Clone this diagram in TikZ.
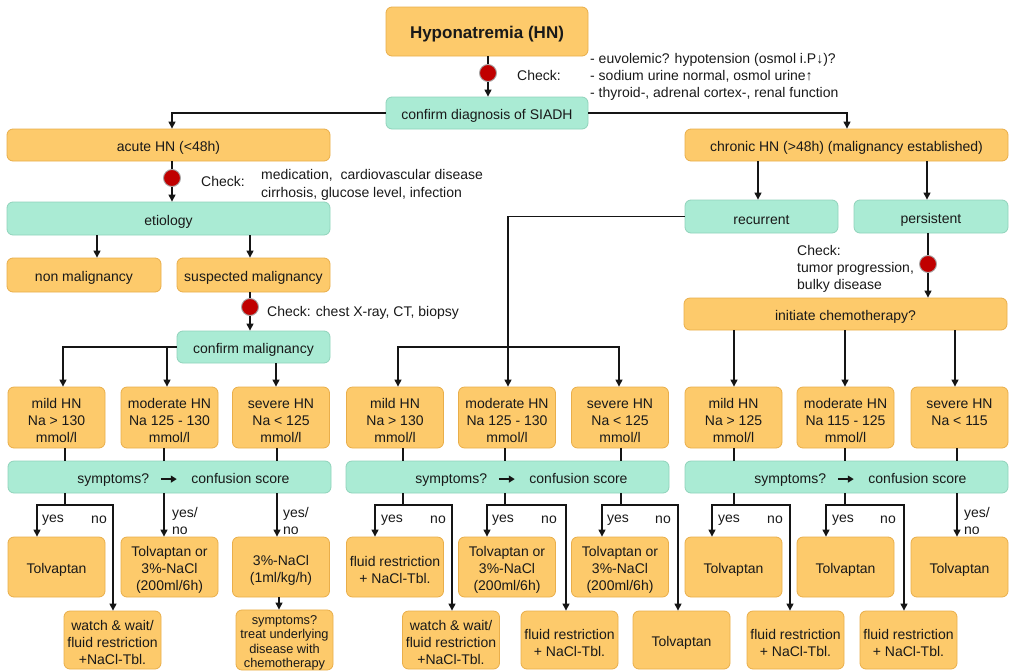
\documentclass[tikz,border=0pt]{standalone}
\usepackage{fontspec}
\setmainfont{Liberation Sans}
\usetikzlibrary{arrows.meta,calc}
\definecolor{ofill}{HTML}{FDCA6B}
\definecolor{oborder}{HTML}{E9AE4A}
\definecolor{gfill}{HTML}{AAEBD4}
\definecolor{gborder}{HTML}{90D3BB}
\definecolor{dotred}{HTML}{C00000}
\definecolor{linec}{HTML}{151515}
\newcommand\fsmain{\fontsize{14}{17}\selectfont}
\newcommand\fssmall{\fontsize{12.8}{14.3}\selectfont}
\newcommand\fstitle{\fontsize{17}{20}\selectfont\bfseries}
\newcommand\tp{\rule{0pt}{16pt}}
\newcommand\tps{\rule{0pt}{14.5pt}}
\newcommand\symarrow{\tikz[baseline=-0.6ex,x=1pt,y=1pt]\draw[-{Triangle[length=6pt,width=7pt]},line width=1.4pt,linec](0,0)--(16,0);}
\newcommand\symtext{\tp\hspace*{28pt}symptoms?\hspace{11pt}\symarrow\hspace{14pt}confusion score}
\tikzset{
  obox/.style={draw=oborder,fill=ofill,rounded corners=6pt,line width=0.8pt,inner sep=0pt,align=center,font=\fsmain,text=black!90},
  gbox/.style={draw=gborder,fill=gfill,rounded corners=6pt,line width=0.8pt,inner sep=0pt,align=center,font=\fsmain,text=black!90},
  lvl/.style={obox,minimum width=97pt,minimum height=61pt},
  trt/.style={obox,minimum width=97pt,minimum height=60pt},
  trb/.style={obox,minimum width=97pt,minimum height=58pt},
  bar/.style={gbox,minimum width=323pt,minimum height=32pt},
  arr/.style={-{Triangle[length=7pt,width=7pt]},line width=1.1pt,draw=linec},
  ln/.style={line width=1.1pt,draw=linec},
  reddot/.style={circle,fill=dotred,draw=gray!70,line width=0.9pt,minimum size=17pt,inner sep=0pt},
  lbl/.style={font=\fsmain,inner sep=0pt,text=black!90,align=left}
}
\begin{document}
\begin{tikzpicture}[x=1pt,y=-1pt]
\useasboundingbox (0,0) rectangle (1010,670);

% top
\node[obox,minimum width=202pt,minimum height=49pt,font=\fstitle] (title) at (487,31.5) {\rule{0pt}{17pt}Hyponatremia (HN)};
\node[gbox,minimum width=202pt,minimum height=32pt] (siadh) at (487,113) {\tp confirm diagnosis of SIADH};
\node[lbl,anchor=west] (chk1) at (517,75) {Check:};
\node[lbl,anchor=west] (chk1t) at (590,77) {- euvolemic? hypotension (osmol i.P↓)?\\- sodium urine normal, osmol urine↑\\- thyroid-, adrenal cortex-, renal function};

% left branch
\node[obox,minimum width=323pt,minimum height=32pt] (acute) at (168.5,145) {\tp acute HN (<48h)};
\node[gbox,minimum width=323pt,minimum height=33pt] (etiology) at (168.5,218.5) {\tp etiology};
\node[lbl,anchor=west] (chk2) at (201,181.5) {Check:};
\node[lbl,anchor=west,font=\fontsize{14}{18}\selectfont] (chk2t) at (261,185) {medication,\ \ cardiovascular disease\\cirrhosis, glucose level, infection};
\node[obox,minimum width=154pt,minimum height=34pt] (nonmal) at (84,275) {\tp non malignancy};
\node[obox,minimum width=153pt,minimum height=34pt] (susp) at (253.5,275) {\tp suspected malignancy};
\node[lbl,anchor=west] (chk3) at (267,313) {Check: chest X-ray, CT, biopsy};
\node[gbox,minimum width=153pt,minimum height=32pt] (confmal) at (253.5,347) {\tp confirm malignancy};

% right branch
\node[obox,minimum width=323pt,minimum height=32pt] (chronic) at (846.5,145) {\tp chronic HN (>48h) (malignancy established)};
\node[gbox,minimum width=153pt,minimum height=33pt] (recurrent) at (761.5,216.5) {\tp recurrent};
\node[gbox,minimum width=154pt,minimum height=33pt] (persistent) at (931,216.5) {\tp persistent};
\node[lbl,anchor=west] (chk4) at (797,269) {Check:\\tumor progression,\\bulky disease};
\node[obox,minimum width=323pt,minimum height=32pt] (chemo) at (845.5,314) {\tp initiate chemotherapy?};

% level boxes
\node[lvl] (Lmild) at (56.5,417.5) {\tp mild HN\\Na > 130\\mmol/l};
\node[lvl] (Lmod) at (169.5,417.5) {\tp moderate HN\\Na 125 - 130\\mmol/l};
\node[lvl] (Lsev) at (281,417.5) {\tp severe HN\\Na < 125\\mmol/l};
\node[lvl] (Mmild) at (395,417.5) {\tp mild HN\\Na > 130\\mmol/l};
\node[lvl] (Mmod) at (507,417.5) {\tp moderate HN\\Na 125 - 130\\mmol/l};
\node[lvl] (Msev) at (620,417.5) {\tp severe HN\\Na < 125\\mmol/l};
\node[lvl] (Rmild) at (733.5,417.5) {\tp mild HN\\Na > 125\\mmol/l};
\node[lvl] (Rmod) at (845.5,417.5) {\tp moderate HN\\Na 115 - 125\\mmol/l};
\node[lvl] (Rsev) at (959.5,417.5) {\tp severe HN\\Na < 115\\\mbox{}};

% symptom bars
\node[bar] (Lbar) at (169.5,477) {\symtext};
\node[bar] (Mbar) at (507.5,477) {\symtext};
\node[bar] (Rbar) at (846.5,477) {\symtext};

% treatments row 1
\node[trt] (Ltr1) at (56.5,567) {\tp Tolvaptan};
\node[trt] (Ltr2) at (169.5,567) {\tp Tolvaptan or\\3\%-NaCl\\(200ml/6h)};
\node[trt] (Ltr3) at (281,567) {\tp 3\%-NaCl\\(1ml/kg/h)};
\node[trt] (Mtr1) at (395,567) {\tp fluid restriction\\+ NaCl-Tbl.};
\node[trt] (Mtr2) at (507,567) {\tp Tolvaptan or\\3\%-NaCl\\(200ml/6h)};
\node[trt] (Mtr3) at (620,567) {\tp Tolvaptan or\\3\%-NaCl\\(200ml/6h)};
\node[trt] (Rtr1) at (733.5,567) {\tp Tolvaptan};
\node[trt] (Rtr2) at (845.5,567) {\tp Tolvaptan};
\node[trt] (Rtr3) at (959.5,567) {\tp Tolvaptan};

% treatments row 2
\node[trb] (Lw) at (112.5,640) {\tp watch \& wait/\\fluid restriction\\+NaCl-Tbl.};
\node[trb,font=\fssmall] (Lsym) at (284.5,640) {\tps symptoms?\\treat underlying\\disease with\\chemotherapy};
\node[trb] (Mw) at (451,640) {\tp watch \& wait/\\fluid restriction\\+NaCl-Tbl.};
\node[trb] (Mfl) at (569.5,640) {\tp fluid restriction\\+ NaCl-Tbl.};
\node[trb] (Mtv) at (681.5,640) {\tp Tolvaptan};
\node[trb] (Rfl1) at (795.5,640) {\tp fluid restriction\\+ NaCl-Tbl.};
\node[trb] (Rfl2) at (908.5,640) {\tp fluid restriction\\+ NaCl-Tbl.};

% ---- connectors top
\draw[arr] ([xshift=1]title.south) -- ([xshift=1]siadh.north);
\node[reddot] (d1) at (488,73) {};
\draw[arr] (siadh.west) -| ([xshift=3.5]acute.north);
\draw[arr] (siadh.east) -| ([xshift=0.5]chronic.north);
\draw[arr] ([xshift=3.5]acute.south) -- ([xshift=3.5]etiology.north);
\node[reddot] (d2) at (172,178) {};
\draw[arr] ([xshift=13]nonmal.north |- etiology.south) -- ([xshift=13]nonmal.north);
\draw[arr] ([xshift=-3.5]susp.north |- etiology.south) -- ([xshift=-3.5]susp.north);
\draw[arr] ([xshift=-3.5]susp.south) -- ([xshift=-3.5]confmal.north);
\node[reddot] (d3) at (250,307) {};
\draw[arr] (confmal.west) -| ([xshift=6.5]Lmild.north);
\draw[arr] ([xshift=-2.5]Lmod.north |- confmal.west) -- ([xshift=-2.5]Lmod.north);
\draw[arr] ([xshift=-5]Lsev.north |- confmal.south) -- ([xshift=-5]Lsev.north);

\draw[arr] ([xshift=-3.5]recurrent.north |- chronic.south) -- ([xshift=-3.5]recurrent.north);
\draw[arr] ([xshift=-4]persistent.north |- chronic.south) -- ([xshift=-4]persistent.north);
\draw[arr] (recurrent.west) -| ([xshift=1]Mmod.north);
\coordinate (jrec) at (508,347);
\draw[arr] (jrec) -| ([xshift=3]Mmild.north);
\draw[arr] (jrec) -| ([xshift=-1]Msev.north);
\draw[arr] ([xshift=-3]persistent.south) -- ([xshift=-3]persistent.south |- chemo.north);
\node[reddot] (d4) at (928,264) {};
\draw[arr] ([xshift=0.5]Rmild.north |- chemo.south) -- ([xshift=0.5]Rmild.north);
\draw[arr] ([xshift=-0.5]Rmod.north |- chemo.south) -- ([xshift=-0.5]Rmod.north);
\draw[arr] ([xshift=-4.5]Rsev.north |- chemo.south) -- ([xshift=-4.5]Rsev.north);

% ---- stems level -> bar
\draw[ln] ([xshift=8.5]Lmild.south) -- ([xshift=8.5]Lmild.south |- Lbar.north);
\draw[ln] ([xshift=-5.5]Lmod.south) -- ([xshift=-5.5]Lmod.south |- Lbar.north);
\draw[ln] ([xshift=-4]Lsev.south) -- ([xshift=-4]Lsev.south |- Lbar.north);
\draw[ln] ([xshift=8]Mmild.south) -- ([xshift=8]Mmild.south |- Mbar.north);
\draw[ln] ([xshift=-2]Mmod.south) -- ([xshift=-2]Mmod.south |- Mbar.north);
\draw[ln] ([xshift=1]Msev.south) -- ([xshift=1]Msev.south |- Mbar.north);
\draw[ln] ([xshift=0.5]Rmild.south) -- ([xshift=0.5]Rmild.south |- Rbar.north);
\draw[ln] ([xshift=-0.5]Rmod.south) -- ([xshift=-0.5]Rmod.south |- Rbar.north);
\draw[ln] ([xshift=-2.5]Rsev.south) -- ([xshift=-2.5]Rsev.south |- Rbar.north);

% ---- bar -> treatments
\coordinate (jLa) at (65,505);
\coordinate (jMa) at (403,505);
\coordinate (jMb) at (505,505);
\coordinate (jMc) at (621,505);
\coordinate (jRa) at (734,505);
\coordinate (jRb) at (845,505);

\draw[ln] (Lbar.south -| jLa) -- (jLa);
\draw[arr] (jLa) -| ([xshift=-19.5]Ltr1.north);
\draw[arr] (jLa) -| ([xshift=0.5]Lw.north);
\draw[arr] ([xshift=-5.5]Ltr2.north |- Lbar.south) -- ([xshift=-5.5]Ltr2.north);
\draw[arr] ([xshift=-4]Ltr3.north |- Lbar.south) -- ([xshift=-4]Ltr3.north);
\draw[arr] ([xshift=-2]Ltr3.south) -- ([xshift=-2]Ltr3.south |- Lsym.north);

\draw[ln] (Mbar.south -| jMa) -- (jMa);
\draw[arr] (jMa) -| ([xshift=-20]Mtr1.north);
\draw[arr] (jMa) -| ([xshift=1]Mw.north);
\draw[ln] (Mbar.south -| jMb) -- (jMb);
\draw[arr] (jMb) -| ([xshift=-20]Mtr2.north);
\draw[arr] (jMb) -| ([xshift=-3.5]Mfl.north);
\draw[ln] (Mbar.south -| jMc) -- (jMc);
\draw[arr] (jMc) -| ([xshift=-18]Mtr3.north);
\draw[arr] (jMc) -| ([xshift=-3.5]Mtv.north);

\draw[ln] (Rbar.south -| jRa) -- (jRa);
\draw[arr] (jRa) -| ([xshift=-21.5]Rtr1.north);
\draw[arr] (jRa) -| ([xshift=-5.5]Rfl1.north);
\draw[ln] (Rbar.south -| jRb) -- (jRb);
\draw[arr] (jRb) -| ([xshift=-19.5]Rtr2.north);
\draw[arr] (jRb) -| ([xshift=-4.5]Rfl2.north);
\draw[arr] ([xshift=-2.5]Rtr3.north |- Rbar.south) -- ([xshift=-2.5]Rtr3.north);

% ---- yes / no labels
\node[lbl,anchor=west] (yL) at (42,520) {yes};
\node[lbl,anchor=east] (nL) at (107,520) {no};
\node[lbl,anchor=west] (ynL2) at (172,520.5) {yes/\\no};
\node[lbl,anchor=west] (ynL3) at (283,520.5) {yes/\\no};
\node[lbl,anchor=west] (yM1) at (381,520) {yes};
\node[lbl,anchor=east] (nM1) at (446,520) {no};
\node[lbl,anchor=west] (yM2) at (492,520) {yes};
\node[lbl,anchor=east] (nM2) at (557,520) {no};
\node[lbl,anchor=west] (yM3) at (607,520) {yes};
\node[lbl,anchor=east] (nM3) at (671,520) {no};
\node[lbl,anchor=west] (yR1) at (718,520) {yes};
\node[lbl,anchor=east] (nR1) at (783,520) {no};
\node[lbl,anchor=west] (yR2) at (832,520) {yes};
\node[lbl,anchor=east] (nR2) at (896,520) {no};
\node[lbl,anchor=west] (ynR3) at (964,520.5) {yes/\\no};
\end{tikzpicture}
\end{document}
